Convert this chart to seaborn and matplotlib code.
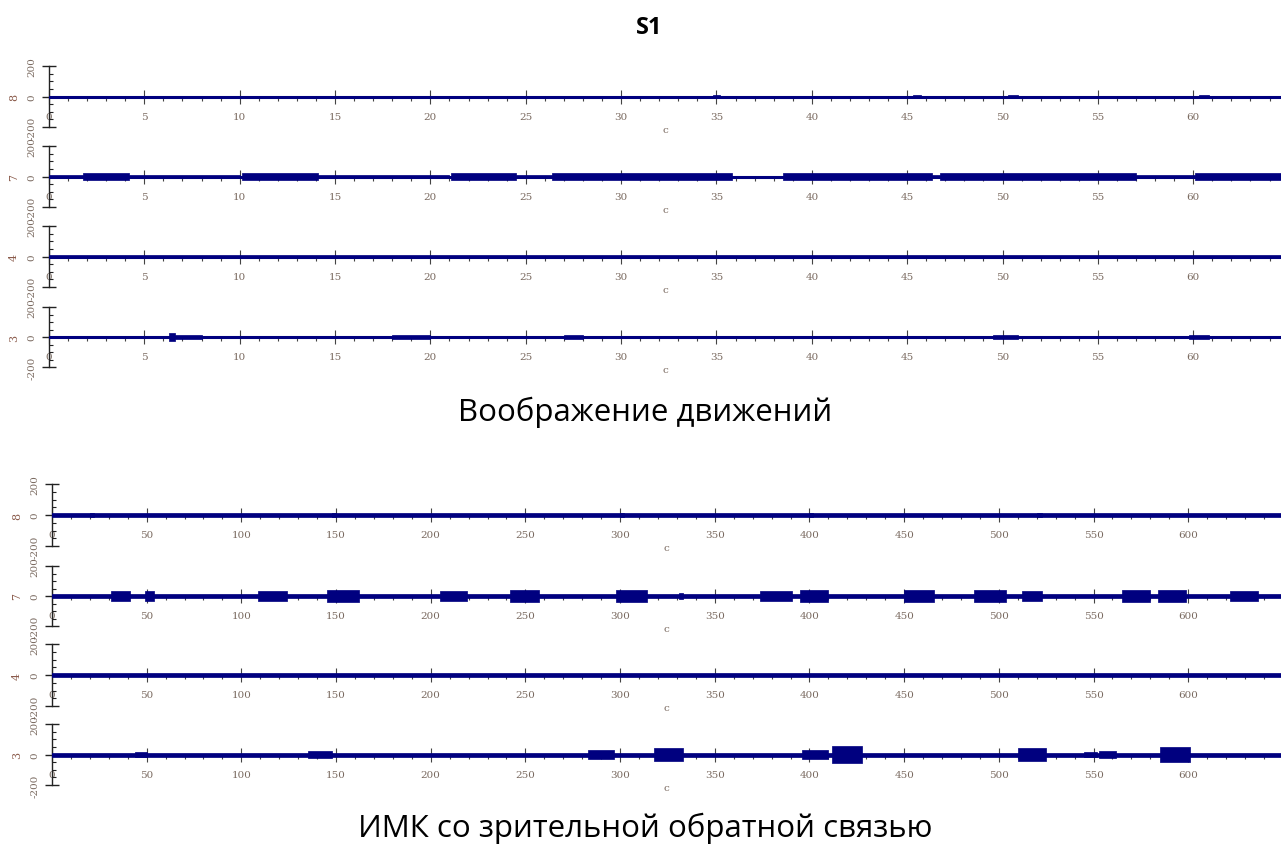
import numpy as np
import pandas as pd
import matplotlib
matplotlib.use("Agg")
import matplotlib.pyplot as plt
import seaborn as sns
from matplotlib.ticker import MultipleLocator, FixedLocator

sns.set_theme(style="white")
plt.rcParams["font.family"] = ["Open Sans", "DejaVu Sans"]
plt.rcParams["axes.unicode_minus"] = False

TITLE = "S1"
CAPTIONS = ["Воображение движений", "ИМК со зрительной обратной связью"]
CHANNELS = ["8", "7", "4", "3"]
XLABEL = "с"
YTICKS = [-200, 0, 200]
XMAX = [64.6, 649]
XMAJOR = [5, 50]
XMINOR = [1, 10]

# Bursts: (start s, end s, half-amplitude)
MI_CH8 = [(34.8, 35.2, 12), (45.3, 45.7, 10), (50.3, 50.8, 12), (60.3, 60.8, 10)]
MI_CH7 = [(0, 1.8, 10), (1.8, 4.2, 26), (4.2, 10.0, 11), (10.1, 14.1, 22), (14.1, 21.0, 9),
          (21.1, 24.5, 22), (24.5, 26.4, 9), (26.4, 35.8, 22), (35.8, 38.5, 6),
          (38.5, 46.3, 22), (46.3, 46.7, 9), (46.7, 57.0, 22), (57.0, 60.1, 7), (60.1, 64.6, 22)]
MI_CH4 = [(0, 64.6, 9)]
MI_CH3 = [(6.3, 6.6, 28), (6.6, 8.0, 11), (18.0, 20.0, 11), (27.0, 28.0, 13),
          (49.5, 50.8, 13), (59.8, 60.8, 11)]

BCI_CH8 = [(20, 22, 14), (148, 150, 12), (300, 302, 12), (400, 402, 12), (520, 523, 12)]
BCI_CH7 = [(31, 41, 36), (49, 54, 32), (109, 124, 36), (145, 162, 40), (205, 219, 36),
           (242, 257, 40), (298, 314, 38), (331, 333, 20), (374, 391, 36), (395, 410, 38),
           (450, 466, 38), (487, 504, 40), (512, 523, 34), (565, 580, 38), (584, 599, 38),
           (622, 637, 36)]
BCI_CH4 = [(0, 649, 8)]
BCI_CH3 = [(44, 50, 16), (135, 148, 22), (283, 297, 32), (318, 333, 40), (396, 410, 32),
           (412, 428, 56), (510, 525, 40), (545, 552, 16), (553, 562, 20), (585, 601, 52)]

GROUPS = [[MI_CH8, MI_CH7, MI_CH4, MI_CH3], [BCI_CH8, BCI_CH7, BCI_CH4, BCI_CH3]]

# layout (pixels)
W, H = 1281, 845
LEFT_PX = [49, 52]
PANELS_PX = [[(67, 128), (147, 208), (227, 288), (308, 368)],
             [(485, 547), (567, 627), (645, 707), (725, 786)]]
LINE_W = [2.2, 3.4]
NAVY = "#00007f"
TICKC = "#7a6a60"
TICKFONT = ["DejaVu Serif"]

fig = plt.figure(figsize=(W / 100, H / 100), dpi=100)

for g in range(2):
    for i, ch in enumerate(CHANNELS):
        ytop, ybot = PANELS_PX[g][i]
        ax = fig.add_axes([LEFT_PX[g] / W, 1 - ybot / H, 1 - LEFT_PX[g] / W, (ybot - ytop) / H])
        xmax = XMAX[g]
        df = pd.DataFrame({"t": [0, xmax], "v": [0, 0]})
        sns.lineplot(data=df, x="t", y="v", ax=ax, color=NAVY, lw=LINE_W[g], zorder=3)
        for (s, e, a) in GROUPS[g][i]:
            ax.fill_between([s, e], [-a, -a], [a, a], color=NAVY, lw=0.5,
                            edgecolor=NAVY, zorder=3)
        ax.set_xlim(0, xmax)
        ax.set_ylim(-200, 200)
        for sp in ["top", "right"]:
            ax.spines[sp].set_visible(False)
        ax.spines["bottom"].set_position(("data", 0))
        ax.spines["bottom"].set_color("#555555")
        ax.spines["bottom"].set_linewidth(0.8)
        ax.spines["left"].set_color("#222222")
        ax.spines["left"].set_linewidth(1.0)
        ax.xaxis.set_major_locator(MultipleLocator(XMAJOR[g]))
        ax.xaxis.set_minor_locator(MultipleLocator(XMINOR[g]))
        ax.yaxis.set_major_locator(FixedLocator(YTICKS))
        ax.yaxis.set_minor_locator(MultipleLocator(50))
        ax.tick_params(axis="x", which="major", direction="inout", length=10, width=0.8,
                       color="#444444", labelsize=7.5, labelcolor=TICKC, pad=6, bottom=True)
        ax.tick_params(axis="x", which="minor", direction="out", length=3, width=0.8,
                       color="#444444", bottom=True)
        ax.tick_params(axis="y", which="major", direction="inout", length=10, width=1.0,
                       color="#222222", labelsize=7.5, labelcolor=TICKC, pad=4, left=True)
        ax.tick_params(axis="y", which="minor", direction="in", length=3, width=0.8,
                       color="#222222", left=True)
        for lab in ax.get_xticklabels():
            lab.set_family(TICKFONT)
        for lab in ax.get_yticklabels():
            lab.set_rotation(90)
            lab.set_va("center")
            lab.set_family(TICKFONT)
        ax.set_xlabel(XLABEL, fontsize=7.5, color=TICKC, labelpad=3, family=TICKFONT)
        ax.set_ylabel(ch, fontsize=8, color="#8a5a4a", rotation=90, labelpad=6,
                      family=TICKFONT)
        ax.set_facecolor("none")
        ax.grid(False)

fig.text(649 / W, 1 - 28 / H, TITLE, ha="center", va="center", fontsize=17,
         fontweight="bold", color="black")
fig.text(645 / W, 1 - 412 / H, CAPTIONS[0], ha="center", va="center", fontsize=22.5,
         color="black")
fig.text(645 / W, 1 - 828 / H, CAPTIONS[1], ha="center", va="center", fontsize=22.5,
         color="black")

fig.savefig("out.png", dpi=100, facecolor="white")
